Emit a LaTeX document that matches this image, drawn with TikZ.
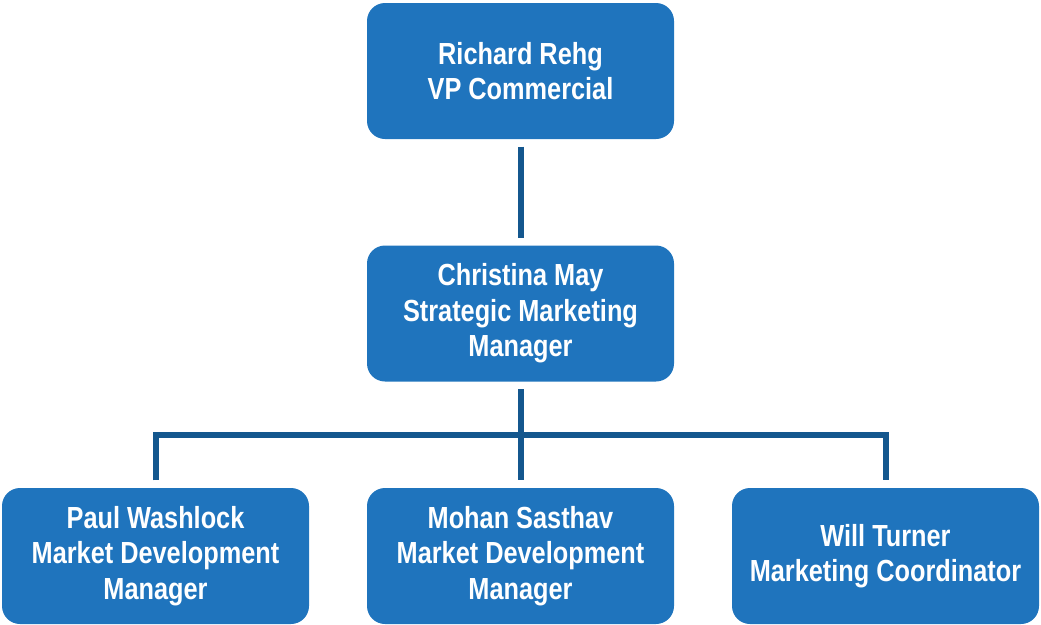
\documentclass[tikz,border=0pt]{standalone}
\usepackage{fontspec}
\setmainfont{Liberation Sans}[FakeStretch=0.83]
\usetikzlibrary{calc}
\definecolor{boxblue}{HTML}{1F74BD}
\definecolor{lineblue}{HTML}{14578E}
\tikzset{
  person/.style={rectangle, rounded corners=18pt, fill=boxblue, text=white,
    minimum width=307pt, minimum height=136pt, inner sep=0pt, align=center,
    font=\fontsize{30.5}{35.5}\selectfont\bfseries},
  link/.style={draw=lineblue, line width=6pt, shorten <=7.5pt, shorten >=7.5pt}
}
\begin{document}
\begin{tikzpicture}[x=1pt,y=-1pt]
        \useasboundingbox (0,0) rectangle (1041,624);
        \node[person] (vp) at (520.5,71) {Richard Rehg\\VP Commercial};
        \node[person] (mgr) at (520.5,313.5) {Christina May\\Strategic Marketing\\Manager};
        \node[person] (mdm1) at (155.5,556) {Paul Washlock\\Market Development\\Manager};
        \node[person] (mdm2) at (520.5,556) {Mohan Sasthav\\Market Development\\Manager};
        \node[person] (coord) at (885.5,556) {Will Turner\\Marketing Coordinator};
        \coordinate (bus) at ($(mgr.south)!0.5!(mdm2.north)$);
        \draw[link] (vp) -- (mgr);
        \draw[link] (mgr) -- (mdm2);
        \draw[link] (mdm1.north) |- (bus) -| (coord.north);
      \end{tikzpicture}
\end{document}
